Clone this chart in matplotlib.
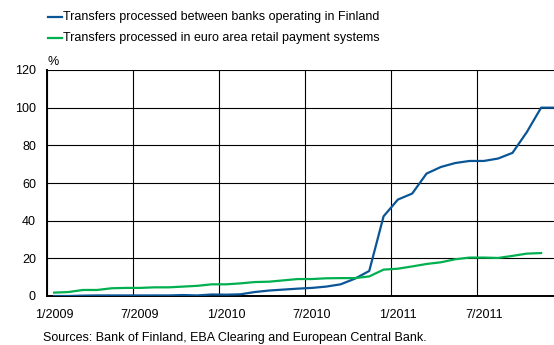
import matplotlib
matplotlib.use("Agg")
import matplotlib.pyplot as plt
from matplotlib.lines import Line2D
import numpy as np

plt.rcParams['font.family'] = ['Liberation Sans', 'DejaVu Sans']

# Monthly data, Jan 2009 .. Dec 2011
finland = [0.0, 0.0, 0.2, 0.3, 0.3, 0.3, 0.3, 0.3, 0.3, 0.5, 0.3, 0.8,
           0.7, 0.9, 2.1, 2.9, 3.4, 3.9, 4.3, 5.0, 6.2, 9.2, 13.3, 42.3,
           51.2, 54.4, 65.0, 68.5, 70.6, 71.7, 71.7, 73.0, 76.0, 87.0, 100.0, 100.0]
euro_area = [1.8, 2.1, 3.2, 3.2, 4.1, 4.3, 4.3, 4.6, 4.6, 5.0, 5.4, 6.2,
             6.2, 6.7, 7.4, 7.6, 8.3, 9.0, 9.0, 9.4, 9.5, 9.5, 10.4, 14.0,
             14.5, 15.7, 17.0, 17.9, 19.5, 20.4, 20.4, 20.2, 21.3, 22.5, 22.8]
tick_labels = ['1/2009', '7/2009', '1/2010', '7/2010', '1/2011', '7/2011']
series_names = ['Transfers processed between banks operating in Finland',
                'Transfers processed in euro area retail payment systems']
blue = '#0A5595'
green = '#00B050'
fs = 9.0

fig = plt.figure(figsize=(5.54, 3.45), dpi=100)
ax = fig.add_axes([47/554, 49/345, 1 - 47/554, 226/345])

ax.plot(np.arange(len(finland)), finland, color=blue, lw=1.6, solid_joinstyle='round', zorder=3)
ax.plot(np.arange(len(euro_area)), euro_area, color=green, lw=1.6, solid_joinstyle='round', zorder=3)

ax.set_xlim(-0.5, 34.9)
ax.set_ylim(0, 120)
ax.set_yticks(np.arange(0, 121, 20))
ax.set_xticks(np.arange(-0.5, 30, 6))
ax.set_xticklabels([])
ax.set_xticks(np.arange(0, 31, 6), minor=True)
ax.set_xticklabels(tick_labels, minor=True)
ax.tick_params(axis='both', which='both', length=0, labelsize=fs, colors='black')
ax.tick_params(axis='y', pad=8)
ax.tick_params(axis='x', which='minor', pad=9)
ax.grid(True, which='major', color='black', lw=0.8)
ax.set_axisbelow(True)
for s in ['top', 'right']:
    ax.spines[s].set_visible(False)
for s in ['left', 'bottom']:
    ax.spines[s].set_linewidth(1.4)
    ax.spines[s].set_color('black')

fig.text(48/554, 1 - 62/345, '%', fontsize=fs, va='center', ha='left')

# legend
for i, (name, col) in enumerate(zip(series_names, [blue, green])):
    yc = 1 - (17 + 21*i)/345
    fig.add_artist(Line2D([48/554, 62/554], [yc, yc], color=col, lw=1.6,
                          transform=fig.transFigure))
    fig.text(63/554, yc, name, fontsize=fs, va='center', ha='left')

fig.text(43/554, 4/345, 'Sources: Bank of Finland, EBA Clearing and European Central Bank.',
         fontsize=fs, va='baseline', ha='left')

fig.savefig('out.png', dpi=100)
